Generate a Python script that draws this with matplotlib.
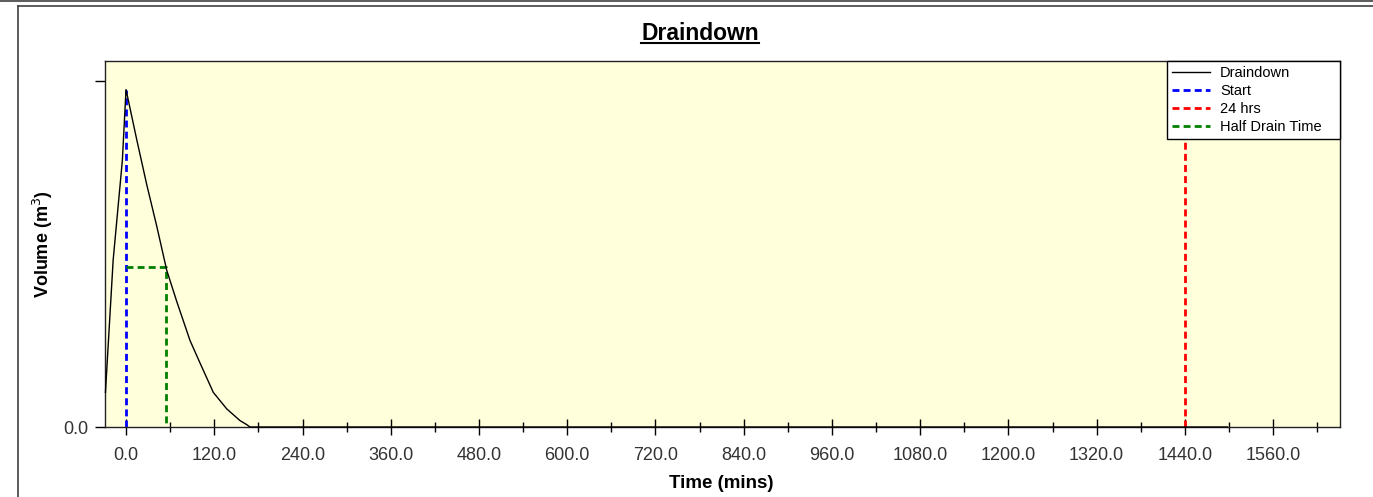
import numpy as np
import matplotlib.pyplot as plt
from matplotlib.lines import Line2D
from matplotlib.ticker import FixedLocator

plt.rcParams['font.family'] = ['Liberation Sans', 'DejaVu Sans']

### Werte aus dem Bild
time_mins = [-28.0, -17.5, -5.0, 0.0, 14.6, 28.2, 41.8, 55.4, 69.0,
             87.0, 100.6, 118.7, 136.9, 155.0, 164.2, 168.6, 1498.0]
volume = [0.40, 1.93, 3.08, 3.90, 3.32, 2.80, 2.32, 1.81, 1.45,
          1.00, 0.74, 0.40, 0.21, 0.074, 0.027, 0.0, 0.0]

start_time = 0.0
peak_volume = 3.90
time_24hrs = 1440.0
half_drain_time = 54.5
half_volume = 1.85

x_major = np.arange(0, 1561, 120)
x_labels = ["%.1f" % v for v in x_major]
y_ticks = [0.0, 4.0]
y_labels = ["0.0", ""]

bg = "#FFFFDC"
fg = "#333333"

fig = plt.figure(figsize=(13.73, 4.97), dpi=100)
ax = fig.add_axes([105 / 1373, 1 - 427 / 497, (1340 - 105) / 1373, (427 - 61) / 497])
ax.set_facecolor(bg)

dash = (2.5, 1.5)
ax.plot(time_mins, volume, color="black", lw=1.0, label="Draindown", zorder=3, clip_on=False)
ax.plot([start_time, start_time], [0, peak_volume], color="#0000FF", lw=2, ls=(0, dash), label="Start")
ax.plot([time_24hrs, time_24hrs], [0, 4.3], color="#FF0000", lw=2, ls=(0, dash), label="24 hrs")
ax.plot([start_time, half_drain_time, half_drain_time], [half_volume, half_volume, 0],
        color="#008000", lw=2, ls=(0, dash), label="Half Drain Time")

ax.set_xlim(-28.6, 1651)
ax.set_ylim(0, 4.23)
ax.set_xticks(x_major)
ax.set_xticklabels(x_labels)
ax.xaxis.set_minor_locator(FixedLocator(np.arange(60, 1621, 120)))
ax.set_yticks(y_ticks)
ax.set_yticklabels(y_labels)

ax.tick_params(axis="x", which="major", direction="inout", length=11, width=1, pad=9,
               labelsize=13, labelcolor=fg)
ax.tick_params(axis="x", which="minor", direction="inout", length=7, width=1)
ax.tick_params(axis="y", which="major", direction="out", length=7, width=1, pad=5,
               labelsize=13, labelcolor=fg)
for s in ax.spines.values():
    s.set_color("#222222")
    s.set_linewidth(1)

ax.set_xlabel("Time (mins)", fontsize=13.5, fontweight="bold", va="baseline")
ax.xaxis.set_label_coords((721.5 - 105) / 1235, (427 - 488) / 366)
ax.set_ylabel("Volume (m$^3$)", fontsize=13, fontweight="bold", va="center")
ax.yaxis.set_label_coords((43 - 105) / 1235, 0.5)

leg_w = 173 / 1235
leg = ax.legend(loc="upper right", bbox_to_anchor=(1.0 - leg_w, 0.0, leg_w, 1.0), mode="expand",
                fontsize=10.5, frameon=True, fancybox=False, shadow=False, borderpad=0.35,
                labelspacing=0.27, handlelength=2.6, handletextpad=0.7, borderaxespad=0)
leg.get_frame().set_edgecolor("black")
leg.get_frame().set_linewidth(1)
leg.get_frame().set_facecolor("white")
leg.get_frame().set_alpha(1)

# Titel mit Unterstreichung
title = fig.text(700 / 1373, 1 - 40 / 497, "Draindown", ha="center", va="baseline",
                 fontsize=16.5, fontweight="bold", color="black")
fig.canvas.draw()
bb = title.get_window_extent().transformed(fig.transFigure.inverted())
fig.add_artist(Line2D([bb.x0, bb.x1], [1 - 42.8 / 497, 1 - 42.8 / 497], color="black", lw=1.5))

# Rahmen
fig.add_artist(Line2D([0, 1], [1 - 0.5 / 497, 1 - 0.5 / 497], color="#404040", lw=1.2))
fig.add_artist(Line2D([18 / 1373, 1], [1 - 5.5 / 497, 1 - 5.5 / 497], color="#404040", lw=1.2))
fig.add_artist(Line2D([18 / 1373, 18 / 1373], [0, 1 - 5.5 / 497], color="#404040", lw=1.2))

fig.savefig("out.png", dpi=100, facecolor="white")
